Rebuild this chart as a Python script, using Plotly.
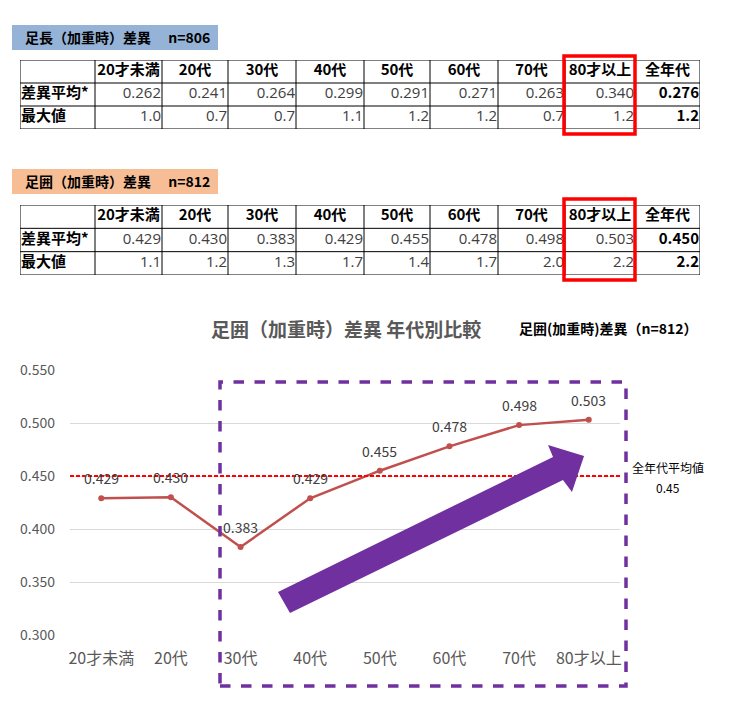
import plotly.graph_objects as go

# page has an 8px body margin, so the figure is 16px smaller than the window
W, H = 713, 691
OFF = 8

# data
ages = ["20才未満", "20代", "30代", "40代", "50代", "60代", "70代", "80才以上"]
all_label = "全年代"
row_labels = ["差異平均*", "最大値"]

length_avg = [0.262, 0.241, 0.264, 0.299, 0.291, 0.271, 0.263, 0.340]
length_max = [1.0, 0.7, 0.7, 1.1, 1.2, 1.2, 0.7, 1.2]
length_all_avg = 0.276
length_all_max = 1.2

girth_avg = [0.429, 0.430, 0.383, 0.429, 0.455, 0.478, 0.498, 0.503]
girth_max = [1.1, 1.2, 1.3, 1.7, 1.4, 1.7, 2.0, 2.2]
girth_all_avg = 0.450
girth_all_max = 2.2

col_widths = [75, 67, 66, 68, 68, 66, 68, 67, 70, 65]
JP = "Noto Sans CJK JP"
NUM = "Open Sans, Noto Sans CJK JP"


def px(x):
    return (x - OFF) / W


def py(y):
    return 1 - (y - OFF) / H


fig = go.Figure()
shapes = []
annots = []
axes = {}

edges = [0]
for w in col_widths:
    edges.append(edges[-1] + w)
total_w = edges[-1]


def add_table(k, avg, mx, all_avg, all_max, top, bottom):
    xa, ya = "x%d" % k, "y%d" % k
    axes["xaxis%d" % k] = dict(domain=[px(20), px(20 + total_w)], range=[0, total_w],
                               visible=False, fixedrange=True, anchor=ya)
    axes["yaxis%d" % k] = dict(domain=[py(bottom), py(top)], range=[3, 0],
                               visible=False, fixedrange=True, anchor=xa)
    # grid
    for r in range(4):
        shapes.append(dict(type="line", xref=xa, yref=ya, x0=0, x1=total_w, y0=r, y1=r,
                           line=dict(color="black", width=1)))
    for e in edges:
        shapes.append(dict(type="line", xref=xa, yref=ya, x0=e, x1=e, y0=0, y1=3,
                           line=dict(color="black", width=1)))
    centers = [(edges[i] + edges[i + 1]) / 2 for i in range(len(col_widths))]
    # header
    fig.add_trace(go.Scatter(
        x=centers[1:], y=[0.5] * (len(ages) + 1), xaxis=xa, yaxis=ya, mode="text",
        text=["<b>%s</b>" % a for a in ages + [all_label]],
        textposition="middle center", textfont=dict(size=15, color="black", family=JP),
        cliponaxis=False, hoverinfo="skip"))
    # row labels
    fig.add_trace(go.Scatter(
        x=[1, 1], y=[1.5, 2.5], xaxis=xa, yaxis=ya, mode="text",
        text=["<b>%s</b>" % r for r in row_labels],
        textposition="middle right", textfont=dict(size=15, color="black", family=JP),
        cliponaxis=False, hoverinfo="skip"))
    # values
    rights = [edges[i + 1] - 1 for i in range(1, len(ages) + 1)]
    fig.add_trace(go.Scatter(
        x=rights + rights, y=[1.5] * len(ages) + [2.5] * len(ages), xaxis=xa, yaxis=ya,
        mode="text",
        text=[f"{v:.3f}" for v in avg] + [f"{v:.1f}" for v in mx],
        textposition="middle left", textfont=dict(size=15, color="#404040", family=NUM),
        cliponaxis=False, hoverinfo="skip"))
    fig.add_trace(go.Scatter(
        x=[total_w - 1, total_w - 1], y=[1.5, 2.5], xaxis=xa, yaxis=ya, mode="text",
        text=[f"<b>{all_avg:.3f}</b>", f"<b>{all_max:.1f}</b>"],
        textposition="middle left", textfont=dict(size=15, color="black", family=JP),
        cliponaxis=False, hoverinfo="skip"))


add_table(2, length_avg, length_max, length_all_avg, length_all_max, 60, 129)
add_table(3, girth_avg, girth_max, girth_all_avg, girth_all_max, 205, 275)

# line chart
fig.add_trace(go.Scatter(
    x=ages, y=girth_avg, mode="lines+markers",
    line=dict(color="#C0504D", width=2.5),
    marker=dict(size=6, color="#C0504D"),
    cliponaxis=False, hoverinfo="skip",
))
for a, v in zip(ages, girth_avg):
    annots.append(dict(x=a, y=v, xref="x", yref="y", yshift=20, showarrow=False,
                       xanchor="center", yanchor="middle", text=f"{v:.3f}",
                       font=dict(size=14, color="#404040")))

# label boxes above tables
for (x0, y0, x1, y1), col, txt in [
    ((12, 25, 218, 50), "#95B3D7", "足長（加重時）差異　 n=806"),
    ((12, 169, 218, 194), "#F7BE96", "足囲（加重時）差異　 n=812"),
]:
    shapes.append(dict(type="rect", xref="paper", yref="paper",
                       x0=px(x0), x1=px(x1), y0=py(y1), y1=py(y0),
                       fillcolor=col, line=dict(width=0), layer="below"))
    annots.append(dict(xref="paper", yref="paper", x=px(x0 + 11), y=py((y0 + y1) / 2),
                       xanchor="left", yanchor="middle", showarrow=False,
                       text="<b>%s</b>" % txt, font=dict(size=14, color="black")))

# red highlight boxes on the 80+ column
for y0, y1 in [(56, 134), (199, 280)]:
    shapes.append(dict(type="rect", xref="paper", yref="paper",
                       x0=px(564), x1=px(635), y0=py(y1), y1=py(y0),
                       line=dict(color="#FF0000", width=3.5)))

# overall average line
shapes.append(dict(type="line", xref="x domain", yref="y", x0=0, x1=1,
                   y0=girth_all_avg, y1=girth_all_avg,
                   line=dict(color="#FF0000", width=2, dash="4px,2px")))
annots.append(dict(xref="paper", yref="paper", x=px(668), y=py(467),
                   xanchor="center", yanchor="middle", showarrow=False,
                   text="全年代平均値", font=dict(size=12, color="black")))
annots.append(dict(xref="paper", yref="paper", x=px(668), y=py(487),
                   xanchor="center", yanchor="middle", showarrow=False,
                   text=f"{girth_all_avg:g}", font=dict(size=12, color="black")))

# purple dashed box
shapes.append(dict(type="rect", xref="paper", yref="paper",
                   x0=px(220), x1=px(626), y0=py(686), y1=py(382),
                   line=dict(color="#7030A0", width=3.5, dash="dash")))

# purple trend arrow
pts = [(290, 613), (278, 592), (553, 457), (548, 445), (584, 456), (572, 492), (563, 480)]
path = "M " + " L ".join(f"{px(x):.4f},{py(y):.4f}" for x, y in pts) + " Z"
shapes.append(dict(type="path", xref="paper", yref="paper", path=path,
                   fillcolor="#7030A0", line=dict(width=0)))

# titles
annots.append(dict(xref="paper", yref="paper", x=px(346), y=py(328),
                   xanchor="center", yanchor="middle", showarrow=False,
                   text="<b>足囲（加重時）差異 年代別比較</b>",
                   font=dict(size=19, color="#595959")))
annots.append(dict(xref="paper", yref="paper", x=px(608), y=py(328),
                   xanchor="center", yanchor="middle", showarrow=False,
                   text="<b>足囲(加重時)差異（n=812）</b>",
                   font=dict(size=14, color="black")))

fig.update_layout(
    width=W, height=H,
    margin=dict(l=0, r=0, t=0, b=0),
    paper_bgcolor="white", plot_bgcolor="white",
    font=dict(family=JP, color="#595959"),
    showlegend=False,
    shapes=shapes, annotations=annots,
    xaxis=dict(domain=[px(70), px(620)], showgrid=False, showline=False,
               ticks="", tickfont=dict(size=16, color="#595959"),
               ticklabelstandoff=12, fixedrange=True, automargin=False),
    yaxis=dict(domain=[py(635), py(370)], range=[0.3, 0.55], tick0=0.3, dtick=0.05,
               tickformat=".3f", showgrid=True, gridcolor="#D9D9D9", gridwidth=1,
               zeroline=False, showline=False, ticks="", fixedrange=True,
               tickfont=dict(size=14, color="#595959"), ticklabelstandoff=14,
               automargin=False),
    **axes,
)

fig.write_html("out.html")
